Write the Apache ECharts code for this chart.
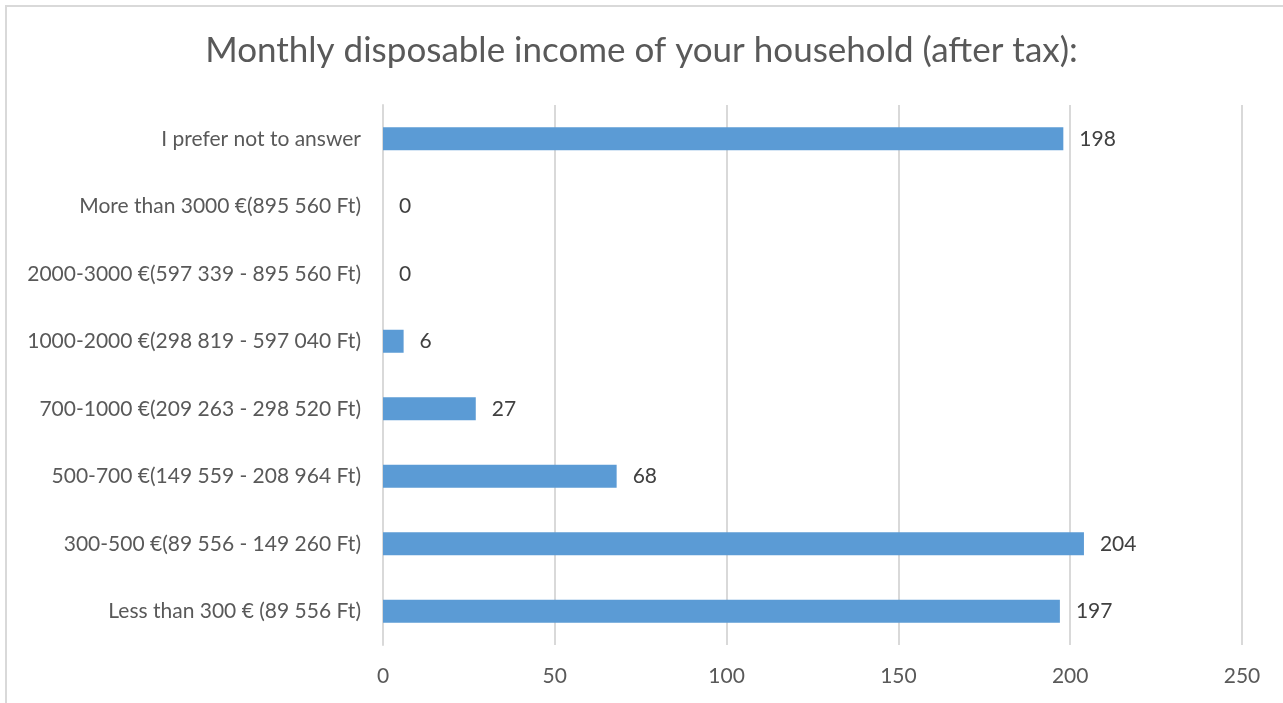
<!DOCTYPE html>
<html>
<head>
<meta charset="utf-8">
<title>Monthly disposable income of your household (after tax)</title>
<script src="https://cdn.jsdelivr.net/npm/echarts@6/dist/echarts.min.js"></script>
<style>
  html, body { margin: 0; padding: 0; background: #ffffff; }
  #chart { width: 1283px; height: 703px; }
</style>
</head>
<body>
<div id="chart"></div>
<script>
// Income brackets, listed bottom to top as they appear on the category axis
const categories = [
  'Less than 300 € (89 556 Ft)',
  '300-500 €(89 556 - 149 260 Ft)',
  '500-700 €(149 559 - 208 964 Ft)',
  '700-1000 €(209 263 - 298 520 Ft)',
  '1000-2000 €(298 819 - 597 040 Ft)',
  '2000-3000 €(597 339 - 895 560 Ft)',
  'More than 3000 €(895 560 Ft)',
  'I prefer not to answer'
];
// Number of respondents per bracket
const responses = [197, 204, 68, 27, 6, 0, 0, 198];
// Value axis ticks
const axisTicks = [0, 50, 100, 150, 200, 250];

const FONT = 'Lato, "Open Sans", sans-serif';
const chart = echarts.init(document.getElementById('chart'), null, { renderer: 'canvas' });

chart.setOption({
  backgroundColor: '#ffffff',
  animation: false,
  title: {
    text: 'Monthly disposable income of your household (after tax):',
    left: 'center',
    top: 28,
    textStyle: { fontFamily: FONT, fontSize: 35, fontWeight: 'normal', color: '#595959' }
  },
  graphic: [{
    type: 'rect',
    shape: { x: 6, y: 6, width: 1300, height: 720 },
    style: { fill: 'none', stroke: '#d9d9d9', lineWidth: 2 },
    silent: true
  }],
  grid: { left: 383, right: 41, top: 105, bottom: 58, containLabel: false },
  xAxis: {
    type: 'value',
    min: axisTicks[0],
    max: axisTicks[axisTicks.length - 1],
    interval: axisTicks[1] - axisTicks[0],
    axisLine: { show: false },
    axisTick: { show: false },
    axisLabel: { fontFamily: FONT, fontSize: 21, color: '#595959', margin: 21 },
    splitLine: { show: true, lineStyle: { color: '#d9d9d9', width: 2 } }
  },
  yAxis: {
    type: 'category',
    data: categories,
    axisLine: { show: true, lineStyle: { color: '#d9d9d9', width: 2 } },
    axisTick: { show: false },
    axisLabel: { fontFamily: FONT, fontSize: 21, color: '#595959', margin: 22 }
  },
  series: [{
    type: 'bar',
    data: responses,
    barWidth: 23,
    itemStyle: { color: '#5b9bd5' },
    label: {
      show: true,
      position: 'right',
      distance: 16,
      fontFamily: FONT,
      fontSize: 21,
      color: '#404040'
    }
  }]
});
</script>
</body>
</html>
